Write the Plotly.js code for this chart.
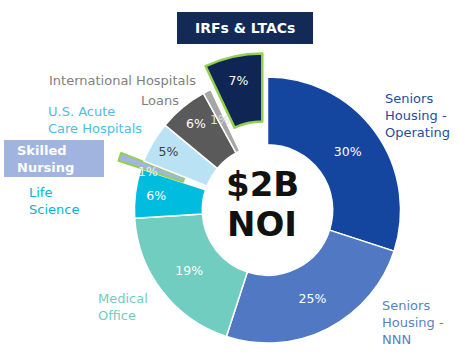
<!DOCTYPE html>
<html>
<head>
<meta charset="utf-8">
<script src="https://cdn.plot.ly/plotly-3.0.1.min.js"></script>
<style>
html,body{margin:0;padding:0;overflow:hidden;background:#fff;}
#chart{width:458px;height:367px;}
</style>
</head>
<body>
<div id="chart"></div>
<script>
// Data
var segments = ["Seniors Housing - Operating", "Seniors Housing - NNN", "Medical Office", "Life Science",
  "Skilled Nursing", "U.S. Acute Care Hospitals", "Loans", "International Hospitals", "IRFs & LTACs"];
var noiShare = [30, 25, 19, 6, 1, 5, 6, 1, 7];
var pulled = [0, 0, 0, 0, 0.18, 0, 0, 0, 0.18];
var sliceColors = ["#1446a0", "#5178c3", "#70cdbf", "#00bcdf", "#a2b5e0", "#bae2f5", "#5a5a5a", "#a6a6a6", "#0f2553"];
var centerLines = ["$2B", "NOI"];

var W = 458, H = 367;
function px(x){return x / W;}
function py(y){return 1 - y / H;}

var trace = {
  type: "pie",
  labels: segments,
  values: noiShare,
  pull: pulled,
  sort: false,
  direction: "clockwise",
  rotation: 0,
  hole: 0.49,
  domain: {x: [px(110.5), px(424.5)], y: [0, 314 / H]},
  marker: {
    colors: sliceColors,
    line: {
      color: ["#ffffff", "#ffffff", "#ffffff", "#ffffff", "#92d050", "#ffffff", "#ffffff", "#ffffff", "#92d050"],
      width: [1.5, 1.5, 1.5, 1.5, 2, 1.5, 1.5, 1.5, 2.5]
    }
  },
  texttemplate: "%{value}%",
  textposition: ["inside", "inside", "inside", "inside", "none", "inside", "inside", "none", "inside"],
  insidetextorientation: "horizontal",
  textfont: {
    family: "DejaVu Sans",
    size: 12.5,
    color: ["#ffffff", "#ffffff", "#ffffff", "#ffffff", "#ffffff", "#404040", "#ffffff", "#404040", "#ffffff"]
  },
  hoverinfo: "none",
  showlegend: false
};

var labelFont = function(c){return {family: "DejaVu Sans", size: 13, color: c};};
var annotations = [
  {text: "International Hospitals", x: px(122), y: py(80), xanchor: "center", yanchor: "middle", font: labelFont("#7f7f7f")},
  {text: "Loans", x: px(160), y: py(101), xanchor: "center", yanchor: "middle", font: labelFont("#7f7f7f")},
  {text: "U.S. Acute<br>Care Hospitals", x: px(46), y: py(120), xanchor: "left", yanchor: "middle", align: "left", font: labelFont("#4dbde9")},
  {text: "Life<br>Science", x: px(27), y: py(201), xanchor: "left", yanchor: "middle", align: "left", font: labelFont("#00b5da")},
  {text: "Medical<br>Office", x: px(96), y: py(306.5), xanchor: "left", yanchor: "middle", align: "left", font: labelFont("#70cdbf")},
  {text: "Seniors<br>Housing -<br>Operating", x: px(383), y: py(115), xanchor: "left", yanchor: "middle", align: "left", font: labelFont("#1f4e9f")},
  {text: "Seniors<br>Housing -<br>NNN", x: px(380), y: py(322), xanchor: "left", yanchor: "middle", align: "left", font: labelFont("#5b7fc7")},
  {text: "<b>Skilled<br>Nursing</b>", x: px(15), y: py(159), xanchor: "left", yanchor: "middle", align: "left", font: {family: "DejaVu Sans", size: 13, color: "#ffffff"}},
  {text: "<b>IRFs & LTACs</b>", x: px(245), y: py(28), xanchor: "center", yanchor: "middle", font: {family: "DejaVu Sans", size: 14, color: "#ffffff"}},
  {text: "<b>" + centerLines[0] + "</b>", x: px(262), y: py(184), xanchor: "center", yanchor: "middle", font: {family: "DejaVu Sans", size: 34, color: "#111111"}},
  {text: "<b>" + centerLines[1] + "</b>", x: px(262), y: py(224), xanchor: "center", yanchor: "middle", font: {family: "DejaVu Sans", size: 34, color: "#111111"}},
  // value labels of the two thin 1% slices
  {text: noiShare[4] + "%", x: px(148), y: py(171), xanchor: "center", yanchor: "middle", font: {family: "DejaVu Sans", size: 12.5, color: "#eef2fa"}},
  {text: noiShare[7] + "%", x: px(220), y: py(120), xanchor: "center", yanchor: "middle", font: {family: "DejaVu Sans", size: 12.5, color: "#dedede"}}
];
annotations.forEach(function(a){a.xref = "paper"; a.yref = "paper"; a.showarrow = false;});

var shapes = [
  {type: "rect", xref: "paper", yref: "paper", x0: px(177), x1: px(313), y0: py(44), y1: py(12), fillcolor: "#142a56", line: {width: 0}, layer: "below"},
  {type: "rect", xref: "paper", yref: "paper", x0: px(4), x1: px(104), y0: py(177), y1: py(140), fillcolor: "#a0b4df", line: {width: 0}, layer: "below"}
];

var layout = {
  width: W, height: H,
  margin: {l: 0, r: 0, t: 0, b: 0},
  paper_bgcolor: "#ffffff",
  plot_bgcolor: "#ffffff",
  showlegend: false,
  uniformtext: {minsize: 12.5, mode: "show"},
  annotations: annotations,
  shapes: shapes
};

Plotly.newPlot("chart", [trace], layout, {displayModeBar: false, staticPlot: true});
</script>
</body>
</html>
